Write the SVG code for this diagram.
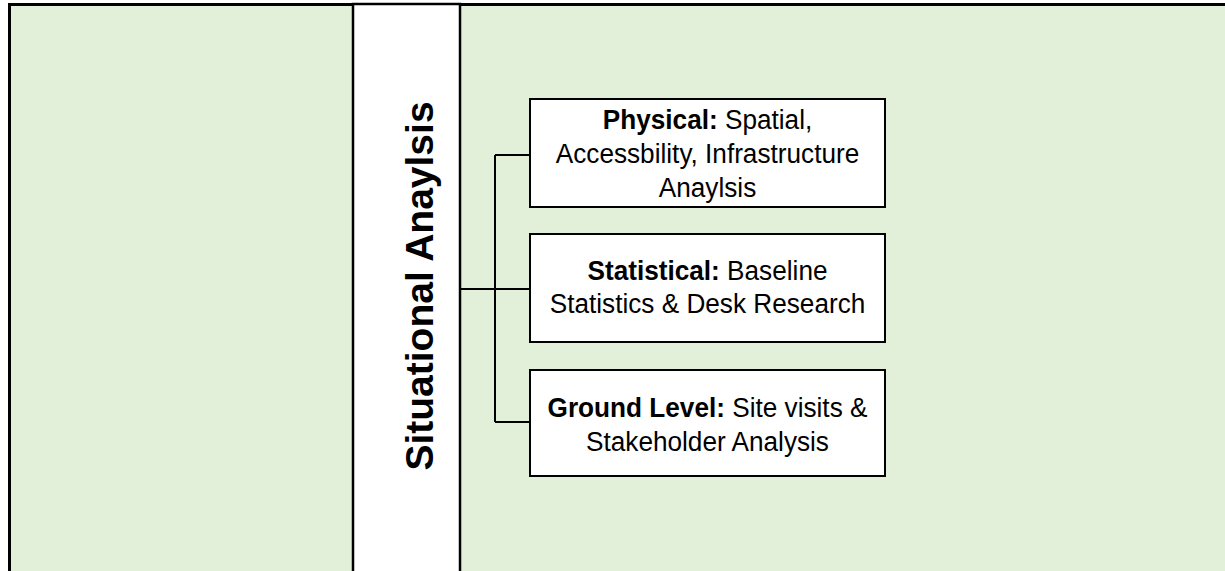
<svg xmlns="http://www.w3.org/2000/svg" width="1225" height="571" viewBox="0 0 1225 571">
  <style>
    .frame { fill: #E2EFD9; stroke: #000; stroke-width: 3; }
    .col { fill: #FFFFFF; stroke: #000; stroke-width: 2.5; }
    .box { fill: #FFFFFF; stroke: #000; stroke-width: 2; }
    .conn { fill: none; stroke: #000; stroke-width: 2; }
    .t { font-family: "Liberation Sans", Arial, sans-serif; font-size: 28px; fill: #000; text-anchor: middle; }
    .b { font-weight: bold; }
    .title { font-family: "Liberation Sans", Arial, sans-serif; font-size: 39px; font-weight: bold; fill: #000; text-anchor: middle; }
  </style>
  <rect width="1225" height="571" fill="#FFFFFF"/>
  <g id="frame">
    <rect class="frame" x="9.5" y="4.5" width="1240" height="600"/>
  </g>
  <g id="column">
    <rect class="col" x="353" y="4" width="107" height="600"/>
    <text class="title" transform="translate(433,286) rotate(-90)">Situational Anaylsis</text>
  </g>
  <g id="connectors">
    <path class="conn" d="M460,289 H530 M495,155 V422 M495,155 H530 M495,422 H530"/>
  </g>
  <g id="physical">
    <rect class="box" x="530" y="99" width="355" height="108"/>
    <g transform="translate(707.5,0) scale(0.935,1)">
      <text class="t" x="0" y="129"><tspan class="b">Physical:</tspan> Spatial,</text>
      <text class="t" x="0" y="163">Accessbility, Infrastructure</text>
      <text class="t" x="0" y="197">Anaylsis</text>
    </g>
  </g>
  <g id="statistical">
    <rect class="box" x="530" y="234" width="355" height="108"/>
    <g transform="translate(707.5,0) scale(0.935,1)">
      <text class="t" x="0" y="280"><tspan class="b">Statistical:</tspan> Baseline</text>
      <text class="t" x="0" y="313">Statistics &amp; Desk Research</text>
    </g>
  </g>
  <g id="ground">
    <rect class="box" x="530" y="370" width="355" height="106"/>
    <g transform="translate(707.5,0) scale(0.935,1)">
      <text class="t" x="0" y="417"><tspan class="b">Ground Level:</tspan> Site visits &amp;</text>
      <text class="t" x="0" y="451">Stakeholder Analysis</text>
    </g>
  </g>
</svg>
